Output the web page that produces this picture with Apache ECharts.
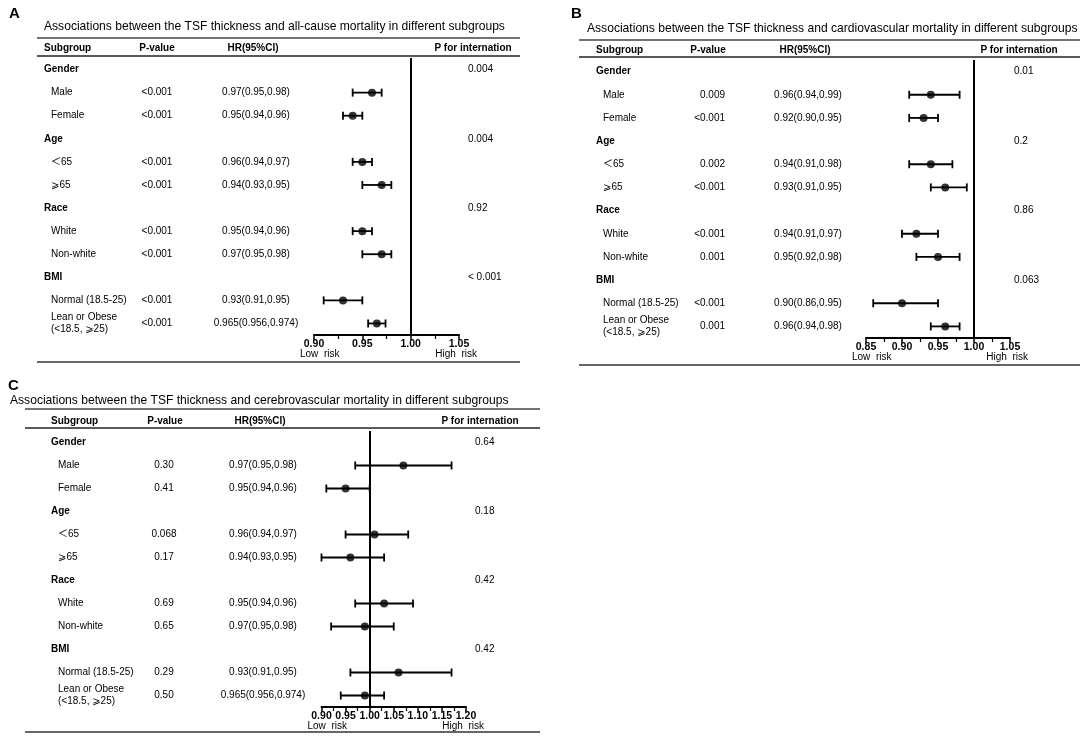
<!DOCTYPE html>
<html>
<head>
<meta charset="utf-8">
<style>
  html, body { margin: 0; padding: 0; background: #fff; }
  #main { width: 1084px; height: 737px; }
</style>
<script src="https://cdn.jsdelivr.net/npm/echarts@6/dist/echarts.min.js"></script>
</head>
<body>
<div id="main"></div>
<script>
// rows shared by the three panels
var rows = ['Gender', 'Male', 'Female', 'Age', '＜65', '⩾65', 'Race', 'White', 'Non-white', 'BMI', 'Normal (18.5-25)', 'Lean or Obese\n(<18.5, ⩾25)'];
var groupRows = ['Gender', 'Age', 'Race', 'BMI'];

// A: all-cause mortality
var pA = [null, '<0.001', '<0.001', null, '<0.001', '<0.001', null, '<0.001', '<0.001', null, '<0.001', '<0.001'];
var hrTextA = [null, '0.97(0.95,0.98)', '0.95(0.94,0.96)', null, '0.96(0.94,0.97)', '0.94(0.93,0.95)', null, '0.95(0.94,0.96)', '0.97(0.95,0.98)', null, '0.93(0.91,0.95)', '0.965(0.956,0.974)'];
var pIntA = ['0.004', null, null, '0.004', null, null, '0.92', null, null, '< 0.001', null, null];
var hrA = [null, 0.96, 0.94, null, 0.95, 0.97, null, 0.95, 0.97, null, 0.93, 0.965];
var loA = [null, 0.94, 0.93, null, 0.94, 0.95, null, 0.94, 0.95, null, 0.91, 0.956];
var hiA = [null, 0.97, 0.95, null, 0.96, 0.98, null, 0.96, 0.98, null, 0.95, 0.974];
var axisA = [0.90, 1.05];

// B: cardiovascular mortality
var pB = [null, '0.009', '<0.001', null, '0.002', '<0.001', null, '<0.001', '0.001', null, '<0.001', '0.001'];
var hrTextB = [null, '0.96(0.94,0.99)', '0.92(0.90,0.95)', null, '0.94(0.91,0.98)', '0.93(0.91,0.95)', null, '0.94(0.91,0.97)', '0.95(0.92,0.98)', null, '0.90(0.86,0.95)', '0.96(0.94,0.98)'];
var pIntB = ['0.01', null, null, '0.2', null, null, '0.86', null, null, '0.063', null, null];
var hrB = [null, 0.94, 0.93, null, 0.94, 0.96, null, 0.92, 0.95, null, 0.90, 0.96];
var loB = [null, 0.91, 0.91, null, 0.91, 0.94, null, 0.90, 0.92, null, 0.86, 0.94];
var hiB = [null, 0.98, 0.95, null, 0.97, 0.99, null, 0.95, 0.98, null, 0.95, 0.98];
var axisB = [0.85, 1.05];

// C: cerebrovascular mortality
var pC = [null, '0.30', '0.41', null, '0.068', '0.17', null, '0.69', '0.65', null, '0.29', '0.50'];
var hrTextC = [null, '0.97(0.95,0.98)', '0.95(0.94,0.96)', null, '0.96(0.94,0.97)', '0.94(0.93,0.95)', null, '0.95(0.94,0.96)', '0.97(0.95,0.98)', null, '0.93(0.91,0.95)', '0.965(0.956,0.974)'];
var pIntC = ['0.64', null, null, '0.18', null, null, '0.42', null, null, '0.42', null, null];
var hrC = [null, 1.07, 0.95, null, 1.01, 0.96, null, 1.03, 0.99, null, 1.06, 0.99];
var loC = [null, 0.97, 0.91, null, 0.95, 0.90, null, 0.97, 0.92, null, 0.96, 0.94];
var hiC = [null, 1.17, 1.00, null, 1.08, 1.03, null, 1.09, 1.05, null, 1.17, 1.03];
var axisC = [0.90, 1.20];

var FONT = '"Liberation Sans", Arial, "DejaVu Sans", "Noto Sans CJK SC", sans-serif';

// layout of each panel (pixels)
var panels = [
    {
        letter: 'A', lx: 9, ly: 14,
        title: 'Associations between the TSF thickness and all-cause mortality in different subgroups',
        tx: 44, ty: 27, lineL: 37, lineR: 520, topLine: 38, headY: 48, headLine: 56, bottomLine: 362,
        left: 314, right: 459, top: 58, bottom: 335,
        subX: 44, pX: 157, pAlign: 'center', hrX: 256, pintX: 468,
        headP: 157, headHr: 253, headPint: 473,
        p: pA, hrText: hrTextA, pInt: pIntA, hr: hrA, lo: loA, hi: hiA, range: axisA
    },
    {
        letter: 'B', lx: 571, ly: 14,
        title: 'Associations between the TSF thickness and cardiovascular mortality in different subgroups',
        tx: 587, ty: 29, lineL: 579, lineR: 1080, topLine: 40, headY: 50, headLine: 57, bottomLine: 365,
        left: 866, right: 1010, top: 60, bottom: 338,
        subX: 596, pX: 725, pAlign: 'right', hrX: 808, pintX: 1014,
        headP: 708, headHr: 805, headPint: 1019,
        p: pB, hrText: hrTextB, pInt: pIntB, hr: hrB, lo: loB, hi: hiB, range: axisB
    },
    {
        letter: 'C', lx: 8, ly: 386,
        title: 'Associations between the TSF thickness and cerebrovascular mortality in different subgroups',
        tx: 10, ty: 401, lineL: 25, lineR: 540, topLine: 409, headY: 421, headLine: 428, bottomLine: 732,
        left: 321.5, right: 466, top: 431, bottom: 707,
        subX: 51, pX: 164, pAlign: 'center', hrX: 263, pintX: 475,
        headP: 165, headHr: 260, headPint: 480,
        p: pC, hrText: hrTextC, pInt: pIntC, hr: hrC, lo: loC, hi: hiC, range: axisC
    }
];

function txt(text, x, y, size, bold, align) {
    return {
        type: 'text', x: x, y: y, silent: true,
        style: {
            text: text, fill: '#000',
            font: (bold ? 'bold ' : '') + size + 'px ' + FONT,
            textAlign: align || 'left', align: align || 'left',
            textVerticalAlign: 'middle', verticalAlign: 'middle'
        }
    };
}

function hline(x1, x2, y, color, w) {
    return {
        type: 'line', silent: true,
        shape: { x1: x1, y1: y, x2: x2, y2: y },
        style: { stroke: color, lineWidth: w }
    };
}

function renderBar(params, api) {
    var y = api.coord([api.value(0), api.value(1)])[1];
    var x0 = api.coord([api.value(2), api.value(1)])[0];
    var x1 = api.coord([api.value(3), api.value(1)])[0];
    var cap = 4;
    var st = { stroke: '#000', lineWidth: 1.8 };
    return {
        type: 'group',
        children: [
            { type: 'line', shape: { x1: x0, y1: y, x2: x1, y2: y }, style: st },
            { type: 'line', shape: { x1: x0, y1: y - cap, x2: x0, y2: y + cap }, style: st },
            { type: 'line', shape: { x1: x1, y1: y - cap, x2: x1, y2: y + cap }, style: st }
        ]
    };
}

var grids = [], xAxes = [], yAxes = [], series = [], graphics = [];

panels.forEach(function (pn, k) {
    var width = pn.right - pn.left;
    grids.push({
        left: pn.left, top: pn.top, width: width, height: pn.bottom - pn.top,
        outerBoundsMode: 'none', containLabel: false
    });

    xAxes.push({
        type: 'value', gridIndex: k, min: pn.range[0], max: pn.range[1], interval: 0.05,
        position: 'bottom',
        axisLine: { show: true, lineStyle: { color: '#000', width: 2 } },
        axisTick: { show: true, length: 5, lineStyle: { color: '#000', width: 1.5 } },
        minorTick: { show: true, splitNumber: 2, length: 4, lineStyle: { color: '#000', width: 1.2 } },
        splitLine: { show: false },
        axisLabel: {
            margin: 4, color: '#000', fontSize: 10.5, fontWeight: 'bold', fontFamily: FONT,
            formatter: function (v) { return v.toFixed(2); }
        }
    });

    var base = {
        type: 'category', gridIndex: k, data: rows, inverse: true,
        axisLine: { show: false }, axisTick: { show: false }, splitLine: { show: false }
    };
    var lbl = { show: true, interval: 0, color: '#000', fontSize: 10, fontFamily: FONT };

    // subgroup column
    yAxes.push(Object.assign({}, base, {
        position: 'left',
        axisLabel: Object.assign({}, lbl, {
            align: 'left', margin: pn.left - pn.subX,
            formatter: function (v) {
                if (groupRows.indexOf(v) >= 0) return '{g|' + v + '}';
                return v.split('\n').map(function (s) { return '{s|' + s + '}'; }).join('\n');
            },
            rich: {
                g: { fontWeight: 'bold', fontSize: 10, fontFamily: FONT, color: '#000' },
                s: { fontSize: 10, fontFamily: FONT, color: '#000', padding: [0, 0, 0, 7], lineHeight: 12 }
            }
        })
    }));
    // P-value column
    yAxes.push(Object.assign({}, base, {
        position: 'left',
        axisLabel: Object.assign({}, lbl, {
            align: pn.pAlign, margin: pn.left - pn.pX,
            formatter: function (v, i) { return pn.p[i] || ''; }
        })
    }));
    // HR(95%CI) column
    yAxes.push(Object.assign({}, base, {
        position: 'left',
        axisLabel: Object.assign({}, lbl, {
            align: 'center', margin: pn.left - pn.hrX,
            formatter: function (v, i) { return pn.hrText[i] || ''; }
        })
    }));
    // P for interaction column
    yAxes.push(Object.assign({}, base, {
        position: 'right',
        axisLabel: Object.assign({}, lbl, {
            align: 'left', margin: pn.pintX - pn.right,
            formatter: function (v, i) { return pn.pInt[i] || ''; }
        })
    }));

    var bars = [], dots = [];
    rows.forEach(function (r, i) {
        if (pn.hr[i] == null) return;
        bars.push([pn.hr[i], i, pn.lo[i], pn.hi[i]]);
        dots.push([pn.hr[i], i]);
    });

    series.push({
        type: 'custom', xAxisIndex: k, yAxisIndex: k * 4,
        renderItem: renderBar, encode: { x: [0, 2, 3], y: 1 }, data: bars, silent: true
    });
    series.push({
        type: 'scatter', xAxisIndex: k, yAxisIndex: k * 4,
        symbol: 'circle', symbolSize: 8, itemStyle: { color: '#000' }, data: dots, silent: true,
        markLine: {
            silent: true, symbol: ['none', 'none'], label: { show: false },
            lineStyle: { color: '#000', width: 2, type: 'solid' },
            data: [{ xAxis: 1 }]
        }
    });

    graphics.push(txt(pn.letter, pn.lx, pn.ly, 15, true));
    graphics.push(txt(pn.title, pn.tx, pn.ty, 12.1, false));
    graphics.push(hline(pn.lineL, pn.lineR, pn.topLine, '#444', 1.5));
    graphics.push(txt('Subgroup', pn.subX, pn.headY, 10, true));
    graphics.push(txt('P-value', pn.headP, pn.headY, 10, true, 'center'));
    graphics.push(txt('HR(95%CI)', pn.headHr, pn.headY, 10, true, 'center'));
    graphics.push(txt('P for internation', pn.headPint, pn.headY, 10, true, 'center'));
    graphics.push(hline(pn.lineL, pn.lineR, pn.headLine, '#222', 1.5));
    graphics.push(hline(pn.lineL, pn.lineR, pn.bottomLine, '#666', 2));
    graphics.push(txt('Low  risk', pn.left - 14, pn.bottom + 19, 10, false));
    graphics.push(txt('High  risk', pn.right + 18, pn.bottom + 19, 10, false, 'right'));
});

var myChart = echarts.init(document.getElementById('main'));
var option = {
    animation: false,
    backgroundColor: '#fff',
    textStyle: { fontFamily: FONT },
    grid: grids,
    xAxis: xAxes,
    yAxis: yAxes,
    series: series,
    graphic: { elements: graphics }
};
myChart.setOption(option);
</script>
</body>
</html>
